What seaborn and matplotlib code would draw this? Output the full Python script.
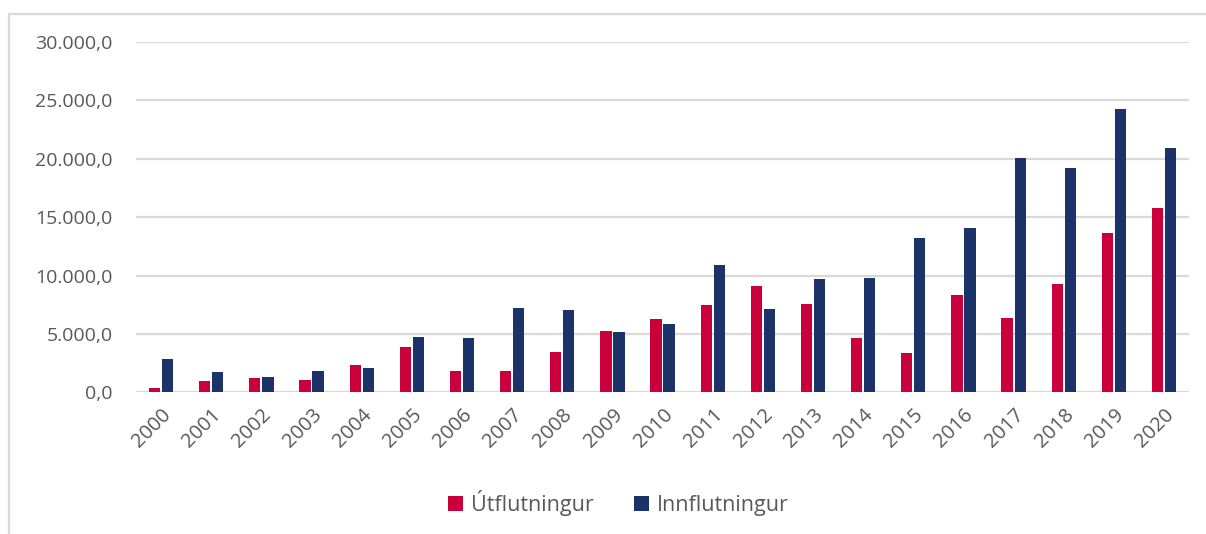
# Útflutningur / Innflutningur 2000-2020

import seaborn as sns
import matplotlib.pyplot as plt
import pandas as pd
from matplotlib.ticker import FuncFormatter
from matplotlib.lines import Line2D

years = [str(y) for y in range(2000, 2021)]
utflutningur = [340, 960, 1220, 1050, 2320, 3910, 1830, 1850, 3450, 5230,
                6260, 7450, 9080, 7600, 4680, 3370, 8340, 6370, 9310, 13670, 15750]
innflutningur = [2830, 1750, 1280, 1830, 2060, 4740, 4650, 7250, 7030, 5170,
                 5830, 10910, 7110, 9740, 9820, 13190, 14100, 20070, 19180, 24270, 20930]
series = ["Útflutningur", "Innflutningur"]
colors = ["#C9003B", "#1C3369"]

df = pd.DataFrame({
    "year": years * 2,
    "value": utflutningur + innflutningur,
    "series": [series[0]] * len(years) + [series[1]] * len(years),
})

sns.set_theme(style="white")
plt.rcParams["font.family"] = ["Open Sans", "DejaVu Sans"]

fig = plt.figure(figsize=(12.06, 5.34), dpi=100)
ax = fig.add_axes([0.1128, 0.2653, 0.8732, 0.656])

sns.barplot(data=df, x="year", y="value", hue="series", palette=colors,
            saturation=1, width=0.52, gap=0.14, ax=ax, edgecolor="none")

ax.set_ylim(0, 30000)
ax.set_yticks(range(0, 30001, 5000))
ax.yaxis.set_major_formatter(FuncFormatter(
    lambda v, p: f"{v:,.1f}".replace(",", "X").replace(".", ",").replace("X", ".")))
ax.grid(axis="y", color="#D9D9D9", linewidth=1.6)
ax.set_axisbelow(True)
for s in ax.spines.values():
    s.set_visible(False)
ax.set_xlabel("")
ax.set_ylabel("")
ax.tick_params(axis="both", length=0, labelcolor="#595959")
ax.tick_params(axis="y", pad=17, labelsize=14)
ax.tick_params(axis="x", pad=9, labelsize=14.5)
plt.setp(ax.get_xticklabels(), rotation=45, ha="right", rotation_mode="anchor")

leg = ax.legend(loc="center", bbox_to_anchor=(0.458, -0.315), ncol=2, frameon=False,
                fontsize=15.5, handlelength=0.7, handleheight=0.7, handletextpad=0.35,
                columnspacing=1.9)
for t in leg.get_texts():
    t.set_color("#595959")

# outer frame (top and left edges)
fig.add_artist(Line2D([8.5 / 1206, 1], [1 - 13.5 / 534] * 2, transform=fig.transFigure,
                      color="#D9D9D9", linewidth=1.6))
fig.add_artist(Line2D([8.5 / 1206] * 2, [0, 1 - 13.5 / 534], transform=fig.transFigure,
                      color="#D9D9D9", linewidth=1.6))

fig.savefig("out.png", dpi=100)
